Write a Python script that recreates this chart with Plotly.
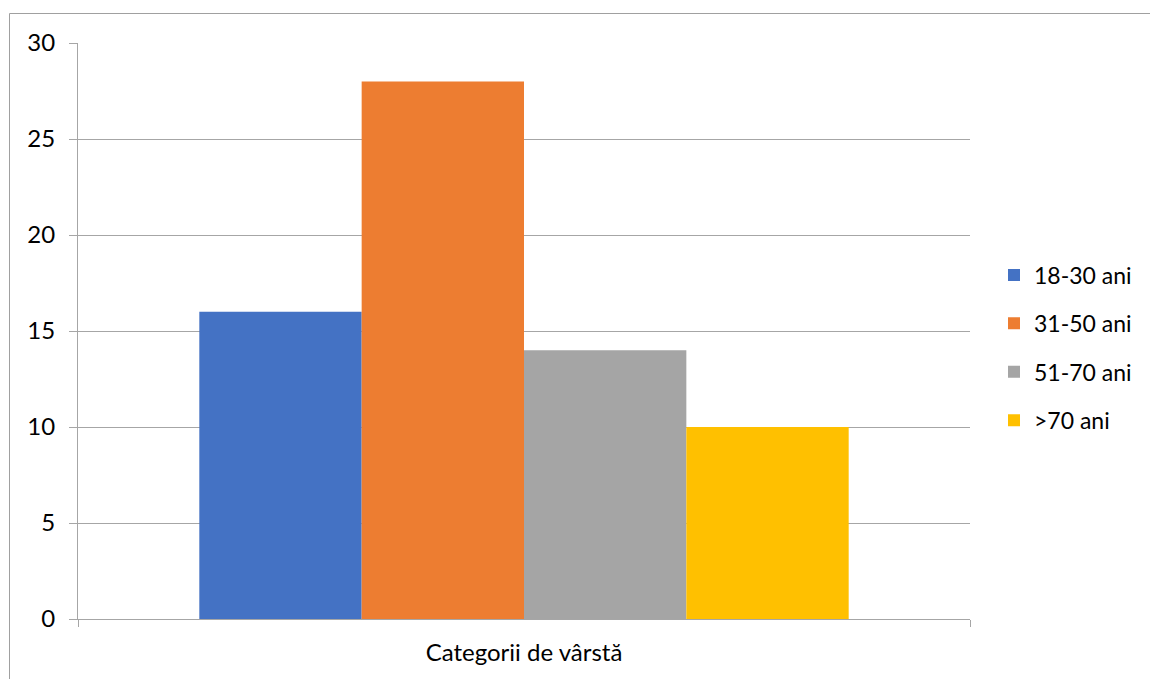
import plotly.graph_objects as go

# Age-group counts for a single category
category = ["Categorii de vârstă"]
series_names = ["18-30 ani", "31-50 ani", "51-70 ani", ">70 ani"]
series_values = [16, 28, 14, 10]
series_colors = ["#4472C4", "#ED7D31", "#A5A5A5", "#FFC000"]
y_ticks = [0, 5, 10, 15, 20, 25, 30]

FONT = "Lato, 'Liberation Sans', sans-serif"
GRID = "#a6a6a6"

fig = go.Figure()
for i, (name, val, col) in enumerate(zip(series_names, series_values, series_colors)):
    fig.add_trace(go.Bar(
        x=category, y=[val], name=name,
        marker=dict(color=col, line=dict(width=0)),
        legendgroup=f"g{i}",
    ))

W, H = 1150, 679
L, R, T, B = 78, 180, 43, 60
pw, ph = W - L - R, H - T - B


def px_to_paper_x(px):
    return (px - L) / pw


def px_to_paper_y(py):
    return (H - B - py) / ph


fig.update_layout(
    width=W, height=H,
    margin=dict(l=L, r=R, t=T, b=B, pad=0),
    paper_bgcolor="white", plot_bgcolor="white",
    barmode="group", bargap=0.272, bargroupgap=0,
    font=dict(family=FONT, color="#000000"),
    showlegend=True,
    legend=dict(
        x=px_to_paper_x(994), xanchor="left",
        y=px_to_paper_y(348), yanchor="middle",
        font=dict(size=23, family=FONT, color="#000000"),
        traceorder="grouped", tracegroupgap=15.5,
        bgcolor="rgba(0,0,0,0)",
    ),
    xaxis=dict(
        type="category", range=[-0.5, 0.5],
        tickson="boundaries", ticks="outside", ticklen=7,
        tickcolor=GRID, tickwidth=1,
        showline=True, linecolor=GRID, linewidth=1,
        showgrid=False, zeroline=False,
        tickfont=dict(size=24, family=FONT, color="#000000"),
        ticklabelstandoff=12,
    ),
    yaxis=dict(
        range=[0, 30], tickvals=y_ticks,
        ticks="outside", ticklen=8, tickcolor=GRID, tickwidth=1,
        showline=True, linecolor=GRID, linewidth=1,
        showgrid=True, gridcolor=GRID, gridwidth=1,
        zeroline=False,
        tickfont=dict(size=24, family=FONT, color="#000000"),
        ticklabelstandoff=9,
    ),
    shapes=[dict(
        type="rect", xref="paper", yref="paper",
        x0=px_to_paper_x(9.5), x1=px_to_paper_x(1170),
        y0=px_to_paper_y(700), y1=px_to_paper_y(13.5),
        line=dict(color="#a0a0a0", width=1), fillcolor="rgba(0,0,0,0)",
        layer="below",
    )],
)

fig.write_html("out.html")
